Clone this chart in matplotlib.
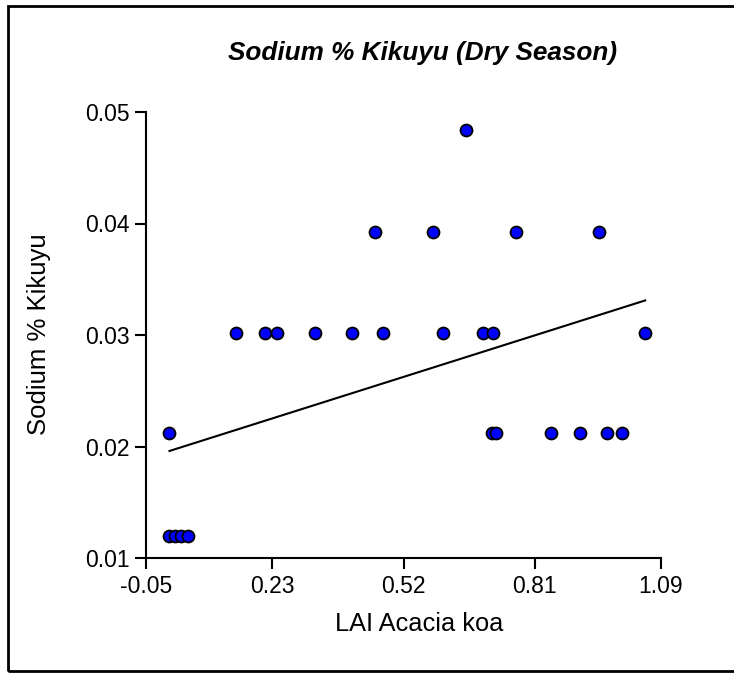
'''
Sodium % Kikuyu (Dry Season) vs LAI Acacia koa
scatter with a fitted line
'''

import matplotlib
matplotlib.use('Agg')
import matplotlib.pyplot as plt
from matplotlib.patches import Rectangle

the_title = 'Sodium % Kikuyu (Dry Season)'
x_name = 'LAI Acacia koa'
y_name = 'Sodium % Kikuyu'

# -- data
lai = [0.659,
       0.457, 0.585, 0.768, 0.952,
       0.149, 0.213, 0.241, 0.323, 0.406, 0.475, 0.608, 0.695, 0.719, 1.054,
       0.000, 0.717, 0.725, 0.847, 0.911, 0.971, 1.003,
       0.000, 0.015, 0.027, 0.042]
sodium = [0.0484,
          0.0392, 0.0392, 0.0392, 0.0392,
          0.0302, 0.0302, 0.0302, 0.0302, 0.0302, 0.0302, 0.0302, 0.0302, 0.0302, 0.0302,
          0.0212, 0.0212, 0.0212, 0.0212, 0.0212, 0.0212, 0.0212,
          0.0120, 0.0120, 0.0120, 0.0120]

# fitted line, ends
fit_x = [0.002, 1.055]
fit_y = [0.0196, 0.0331]

x_ticks = [-0.05, 0.23, 0.52, 0.81, 1.09]
x_tick_labels = ['-0.05', '0.23', '0.52', '0.81', '1.09']
y_ticks = [0.01, 0.02, 0.03, 0.04, 0.05]
y_tick_labels = ['0.01', '0.02', '0.03', '0.04', '0.05']

plt.rcParams['font.family'] = ['Liberation Sans', 'DejaVu Sans']

W, H = 734, 673
fig = plt.figure(figsize=(W / 100, H / 100), dpi=100)
ax = fig.add_axes([146 / W, 1 - 558 / H, (661 - 146) / W, (558 - 112) / H])

ax.plot(fit_x, fit_y, color='black', lw=1.5, zorder=2)
ax.plot(lai, sodium, 'o', ms=8.6, mfc='#0000FF', mec='black', mew=1.3, zorder=3,
        clip_on=False)

ax.set_xlim(-0.05, 1.09)
ax.set_ylim(0.01, 0.05)
ax.set_xticks(x_ticks)
ax.set_xticklabels(x_tick_labels)
ax.set_yticks(y_ticks)
ax.set_yticklabels(y_tick_labels)
ax.tick_params(labelsize=16.5, length=8, width=1.5, pad=4, color='black')

for s in ['top', 'right']:
    ax.spines[s].set_visible(False)
for s in ['left', 'bottom']:
    ax.spines[s].set_linewidth(1.5)

ax.set_xlabel(x_name, fontsize=18.3)
ax.xaxis.set_label_coords(0.531, -0.121)
ax.set_ylabel(y_name, fontsize=18.5)
ax.yaxis.set_label_coords(-0.1845, 0.501)

fig.text(422.5 / W, 1 - 53 / H, the_title, fontsize=18.8, fontweight='bold',
         fontstyle='italic', ha='center', va='center')

# outer frame (right edge runs off the picture)
fig.patches.append(Rectangle((7.5 / W, 1 - 671 / H), 1.0, (671 - 5.5) / H,
                             transform=fig.transFigure, fill=False,
                             lw=2.0, edgecolor='black'))

fig.savefig('out.png', dpi=100)
